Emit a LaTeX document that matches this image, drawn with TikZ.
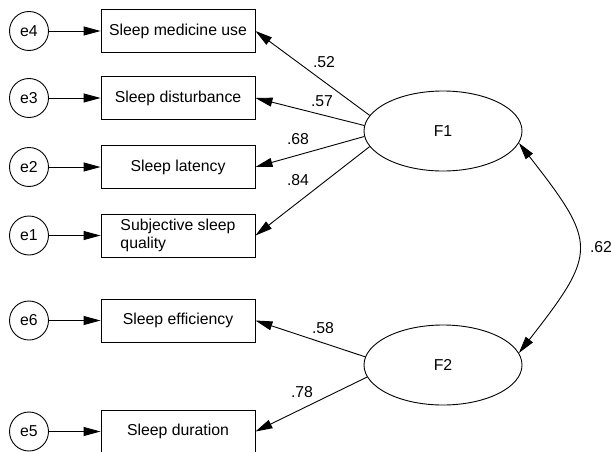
\documentclass[tikz,border=0pt]{standalone}
\usepackage{fontspec}
\setmainfont{Liberation Sans}
\usepackage{tikz}
\usetikzlibrary{shapes.geometric, arrows.meta, positioning}

\begin{document}
\begin{tikzpicture}[x=1pt, y=1pt,
    every node/.style={font=\fontsize{15.8}{18}\selectfont},
    item/.style={draw, rectangle, line width=0.9pt, minimum width=154pt, minimum height=43pt, inner sep=2pt},
    err/.style={draw, circle, line width=0.9pt, minimum size=39pt, inner sep=0pt},
    factor/.style={draw, ellipse, line width=0.9pt, minimum width=158pt, minimum height=80pt},
    load/.style={-{Triangle[length=17pt, width=9pt]}, line width=0.9pt},
    cov/.style={{Triangle[length=17pt, width=9pt]}-{Triangle[length=17pt, width=9pt]}, line width=0.9pt}]
    \useasboundingbox (0,0) rectangle (612,451);

    % observed indicators
    \node[item] (b4) at (178,420) {Sleep medicine use};
    \node[item] (b3) at (178,353) {Sleep disturbance};
    \node[item] (b2) at (178,284) {Sleep latency};
    \node[item, align=left] (b1) at (178,215.5) {Subjective sleep\\quality};
    \node[item] (b6) at (178,130.5) {Sleep efficiency};
    \node[item] (b5) at (178,19.5) {Sleep duration};

    % error terms
    \node[err] (e4) at (29,420) {e4};
    \node[err] (e3) at (29,353) {e3};
    \node[err] (e2) at (29,284) {e2};
    \node[err] (e1) at (29,215.5) {e1};
    \node[err] (e6) at (29,130.5) {e6};
    \node[err] (e5) at (29,19.5) {e5};

    \draw[load] (e4) -- (b4);
    \draw[load] (e3) -- (b3);
    \draw[load] (e2) -- (b2);
    \draw[load] (e1) -- (b1);
    \draw[load] (e6) -- (b6);
    \draw[load] (e5) -- (b5);

    % latent factors
    \node[factor] (F1) at (443,320) {F1};
    \node[factor] (F2) at (443,86) {F2};

    \draw[load] (F1.168) -- (b4.east);
    \draw[load] (F1.176) -- (b3.east);
    \draw[load] (F1.184) -- (b2.east);
    \draw[load] (F1.192) -- (b1.east);
    \draw[load] (F2.174) -- (b6.east);
    \draw[load] (F2.189) -- (b5.east);

    \node (l52) at (324,389) {.52};
    \node (l57) at (322,350) {.57};
    \node (l68) at (298,312) {.68};
    \node (l84) at (298,271) {.84};
    \node (l58) at (323,123) {.58};
    \node (l78) at (302,59) {.78};

    % factor correlation
    \draw[cov] (F1.351) .. controls +(-52:128) and +(52:128) .. (F2.9);
    \node (l62) at (601,204) {.62};
\end{tikzpicture}
\end{document}
